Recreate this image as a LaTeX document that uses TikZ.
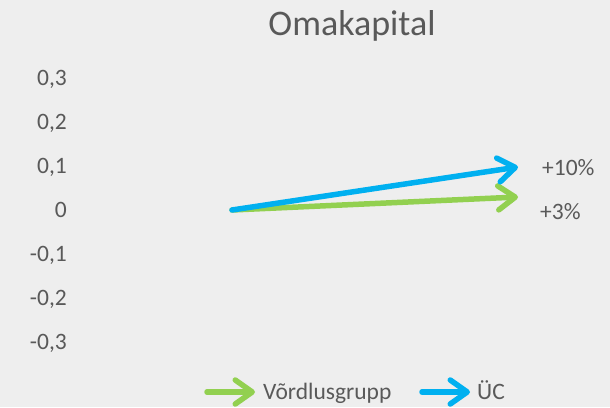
\documentclass[tikz,border=0pt]{standalone}
\usepackage{fontspec}
\setmainfont{Carlito}
\usetikzlibrary{arrows.meta}
\definecolor{chartbg}{HTML}{EEEEEE}
\definecolor{chartgray}{HTML}{595959}
\definecolor{ucblue}{HTML}{00B0F0}
\definecolor{vggreen}{HTML}{92D050}
\tikzset{
x=1pt, y=-1pt, % one unit is one pixel of the chart, y runs downwards
every node/.style={text=chartgray, inner sep=0pt, font=\fontsize{23.5}{28}\selectfont}, % all chart texts
ticklabel/.style={anchor=base east}, % labels of the value axis
series/.style={line width=5.5pt, line cap=round, line join=round,
  -{Straight Barb[length=17pt,width=24pt,line cap=round,line join=round]}}, % thick chevron arrows
}

\begin{document}
\begin{tikzpicture}
  \fill[chartbg] (0,0) rectangle (610,407);
  \useasboundingbox (0,0) rectangle (610,407);

  % title
  \node[anchor=base, font=\fontsize{36}{42}\selectfont] (title) at (352,35) {Omakapital};

  % value axis
  \foreach \ypos/\lab [count=\i] in {78/{0,3}, 122/{0,2}, 166/{0,1}, 210/0, 254/{-0,1}, 298/{-0,2}, 342/{-0,3}}
    \node[ticklabel] (tick\i) at (67,\ypos+7) {\lab};

  % series
  \coordinate (origin) at (232,210);
  \coordinate (vgEnd) at (518,197);
  \coordinate (ucEnd) at (518,167);
  \draw[series, vggreen] (origin) -- (vgEnd);
  \draw[series, ucblue] (origin) -- (ucEnd);
  \node[anchor=base west] (ucLabel) at (542,175) {+10\%};
  \node[anchor=base west] (vgLabel) at (540,219) {+3\%};

  % legend
  \coordinate (vgKeyA) at (207,392);
  \coordinate (vgKeyB) at (255,392);
  \coordinate (ucKeyA) at (422,392);
  \coordinate (ucKeyB) at (470,392);
  \draw[series, vggreen] (vgKeyA) -- (vgKeyB);
  \node[anchor=base west] (vgKey) at (263,399) {Võrdlusgrupp};
  \draw[series, ucblue] (ucKeyA) -- (ucKeyB);
  \node[anchor=base west] (ucKey) at (477,399) {ÜC};
\end{tikzpicture}
\end{document}
